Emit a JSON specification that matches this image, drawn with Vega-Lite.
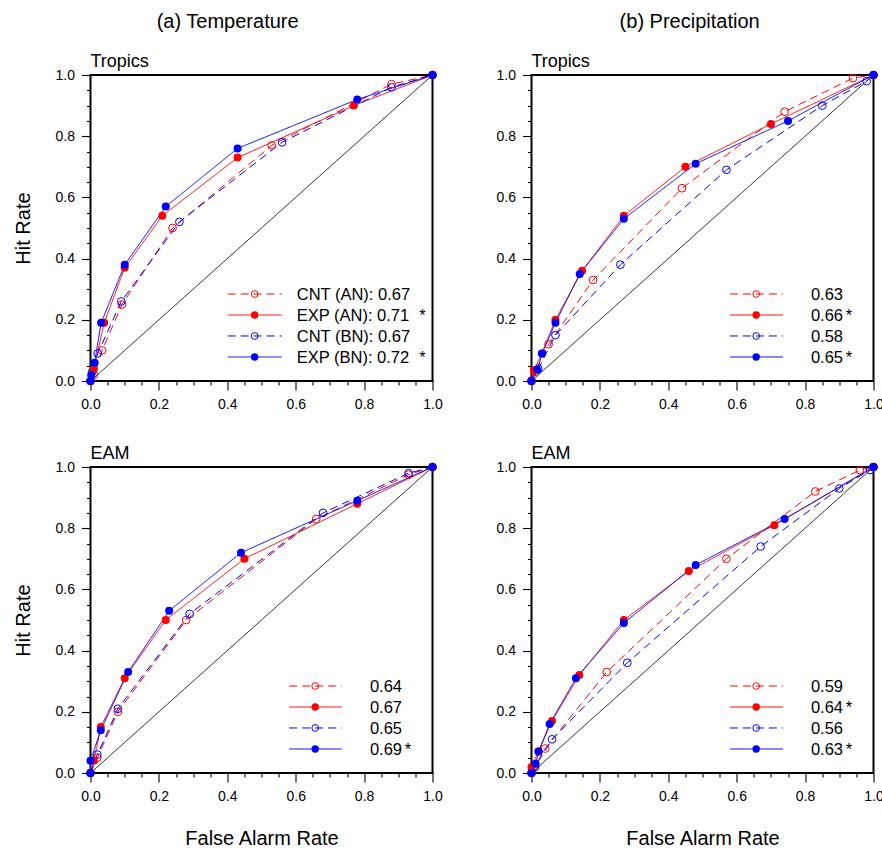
{
"$schema":"https://vega.github.io/schema/vega-lite/v6.json",
"padding":{"left":11.5,"top":12,"right":0,"bottom":0},
"datasets":{
"tt":[
{"series":"CNT (AN)","far":0,"hr":0},{"series":"CNT (AN)","far":0.01,"hr":0.02},{"series":"CNT (AN)","far":0.034,"hr":0.10},{"series":"CNT (AN)","far":0.092,"hr":0.25},{"series":"CNT (AN)","far":0.24,"hr":0.50},{"series":"CNT (AN)","far":0.53,"hr":0.77},{"series":"CNT (AN)","far":0.88,"hr":0.97},{"series":"CNT (AN)","far":1,"hr":1},
{"series":"EXP (AN)","far":0,"hr":0},{"series":"EXP (AN)","far":0.01,"hr":0.04},{"series":"EXP (AN)","far":0.04,"hr":0.19},{"series":"EXP (AN)","far":0.10,"hr":0.37},{"series":"EXP (AN)","far":0.21,"hr":0.54},{"series":"EXP (AN)","far":0.43,"hr":0.73},{"series":"EXP (AN)","far":0.77,"hr":0.90},{"series":"EXP (AN)","far":1,"hr":1},
{"series":"CNT (BN)","far":0,"hr":0},{"series":"CNT (BN)","far":0.005,"hr":0.03},{"series":"CNT (BN)","far":0.021,"hr":0.09},{"series":"CNT (BN)","far":0.09,"hr":0.26},{"series":"CNT (BN)","far":0.26,"hr":0.52},{"series":"CNT (BN)","far":0.56,"hr":0.78},{"series":"CNT (BN)","far":0.88,"hr":0.96},{"series":"CNT (BN)","far":1,"hr":1},
{"series":"EXP (BN)","far":0,"hr":0},{"series":"EXP (BN)","far":0.002,"hr":0.02},{"series":"EXP (BN)","far":0.012,"hr":0.06},{"series":"EXP (BN)","far":0.031,"hr":0.19},{"series":"EXP (BN)","far":0.10,"hr":0.38},{"series":"EXP (BN)","far":0.22,"hr":0.57},{"series":"EXP (BN)","far":0.43,"hr":0.76},{"series":"EXP (BN)","far":0.78,"hr":0.92},{"series":"EXP (BN)","far":1,"hr":1}
],
"pt":[
{"series":"CNT (AN)","far":0,"hr":0},{"series":"CNT (AN)","far":0.01,"hr":0.03},{"series":"CNT (AN)","far":0.05,"hr":0.12},{"series":"CNT (AN)","far":0.18,"hr":0.33},{"series":"CNT (AN)","far":0.44,"hr":0.63},{"series":"CNT (AN)","far":0.74,"hr":0.88},{"series":"CNT (AN)","far":0.94,"hr":0.99},{"series":"CNT (AN)","far":1,"hr":1},
{"series":"EXP (AN)","far":0,"hr":0},{"series":"EXP (AN)","far":0.007,"hr":0.035},{"series":"EXP (AN)","far":0.03,"hr":0.09},{"series":"EXP (AN)","far":0.07,"hr":0.20},{"series":"EXP (AN)","far":0.148,"hr":0.36},{"series":"EXP (AN)","far":0.27,"hr":0.54},{"series":"EXP (AN)","far":0.45,"hr":0.70},{"series":"EXP (AN)","far":0.70,"hr":0.84},{"series":"EXP (AN)","far":1,"hr":1},
{"series":"CNT (BN)","far":0,"hr":0},{"series":"CNT (BN)","far":0.02,"hr":0.04},{"series":"CNT (BN)","far":0.07,"hr":0.15},{"series":"CNT (BN)","far":0.26,"hr":0.38},{"series":"CNT (BN)","far":0.57,"hr":0.69},{"series":"CNT (BN)","far":0.85,"hr":0.90},{"series":"CNT (BN)","far":0.98,"hr":0.98},{"series":"CNT (BN)","far":1,"hr":1},
{"series":"EXP (BN)","far":0,"hr":0},{"series":"EXP (BN)","far":0.017,"hr":0.037},{"series":"EXP (BN)","far":0.031,"hr":0.09},{"series":"EXP (BN)","far":0.07,"hr":0.19},{"series":"EXP (BN)","far":0.141,"hr":0.35},{"series":"EXP (BN)","far":0.27,"hr":0.53},{"series":"EXP (BN)","far":0.48,"hr":0.71},{"series":"EXP (BN)","far":0.75,"hr":0.85},{"series":"EXP (BN)","far":1,"hr":1}
],
"te":[
{"series":"CNT (AN)","far":0,"hr":0},{"series":"CNT (AN)","far":0.02,"hr":0.05},{"series":"CNT (AN)","far":0.08,"hr":0.20},{"series":"CNT (AN)","far":0.28,"hr":0.50},{"series":"CNT (AN)","far":0.66,"hr":0.83},{"series":"CNT (AN)","far":0.93,"hr":0.975},{"series":"CNT (AN)","far":1,"hr":1},
{"series":"EXP (AN)","far":0,"hr":0},{"series":"EXP (AN)","far":0.01,"hr":0.04},{"series":"EXP (AN)","far":0.03,"hr":0.15},{"series":"EXP (AN)","far":0.10,"hr":0.31},{"series":"EXP (AN)","far":0.22,"hr":0.50},{"series":"EXP (AN)","far":0.45,"hr":0.70},{"series":"EXP (AN)","far":0.78,"hr":0.88},{"series":"EXP (AN)","far":1,"hr":1},
{"series":"CNT (BN)","far":0,"hr":0},{"series":"CNT (BN)","far":0.02,"hr":0.06},{"series":"CNT (BN)","far":0.08,"hr":0.21},{"series":"CNT (BN)","far":0.29,"hr":0.52},{"series":"CNT (BN)","far":0.68,"hr":0.85},{"series":"CNT (BN)","far":0.93,"hr":0.98},{"series":"CNT (BN)","far":1,"hr":1},
{"series":"EXP (BN)","far":0,"hr":0},{"series":"EXP (BN)","far":0,"hr":0.04},{"series":"EXP (BN)","far":0.03,"hr":0.14},{"series":"EXP (BN)","far":0.11,"hr":0.33},{"series":"EXP (BN)","far":0.23,"hr":0.53},{"series":"EXP (BN)","far":0.44,"hr":0.72},{"series":"EXP (BN)","far":0.78,"hr":0.89},{"series":"EXP (BN)","far":1,"hr":1}
],
"pe":[
{"series":"CNT (AN)","far":0,"hr":0},{"series":"CNT (AN)","far":0.01,"hr":0.02},{"series":"CNT (AN)","far":0.04,"hr":0.08},{"series":"CNT (AN)","far":0.22,"hr":0.33},{"series":"CNT (AN)","far":0.57,"hr":0.70},{"series":"CNT (AN)","far":0.83,"hr":0.92},{"series":"CNT (AN)","far":0.96,"hr":0.99},{"series":"CNT (AN)","far":1,"hr":1},
{"series":"EXP (AN)","far":0,"hr":0},{"series":"EXP (AN)","far":0,"hr":0.02},{"series":"EXP (AN)","far":0.02,"hr":0.07},{"series":"EXP (AN)","far":0.06,"hr":0.17},{"series":"EXP (AN)","far":0.14,"hr":0.32},{"series":"EXP (AN)","far":0.27,"hr":0.50},{"series":"EXP (AN)","far":0.46,"hr":0.66},{"series":"EXP (AN)","far":0.71,"hr":0.81},{"series":"EXP (AN)","far":1,"hr":1},
{"series":"CNT (BN)","far":0,"hr":0},{"series":"CNT (BN)","far":0.01,"hr":0.02},{"series":"CNT (BN)","far":0.06,"hr":0.11},{"series":"CNT (BN)","far":0.28,"hr":0.36},{"series":"CNT (BN)","far":0.67,"hr":0.74},{"series":"CNT (BN)","far":0.90,"hr":0.93},{"series":"CNT (BN)","far":0.99,"hr":0.99},{"series":"CNT (BN)","far":1,"hr":1},
{"series":"EXP (BN)","far":0,"hr":0},{"series":"EXP (BN)","far":0.012,"hr":0.03},{"series":"EXP (BN)","far":0.021,"hr":0.07},{"series":"EXP (BN)","far":0.053,"hr":0.16},{"series":"EXP (BN)","far":0.13,"hr":0.31},{"series":"EXP (BN)","far":0.27,"hr":0.49},{"series":"EXP (BN)","far":0.48,"hr":0.68},{"series":"EXP (BN)","far":0.74,"hr":0.83},{"series":"EXP (BN)","far":1,"hr":1}
],
"tt_leg":[{"series":"CNT (AN)","label":"CNT (AN): 0.67","star":""},{"series":"EXP (AN)","label":"EXP (AN): 0.71","star":"*"},{"series":"CNT (BN)","label":"CNT (BN): 0.67","star":""},{"series":"EXP (BN)","label":"EXP (BN): 0.72","star":"*"}],
"pt_leg":[{"series":"CNT (AN)","label":"0.63","star":""},{"series":"EXP (AN)","label":"0.66","star":"*"},{"series":"CNT (BN)","label":"0.58","star":""},{"series":"EXP (BN)","label":"0.65","star":"*"}],
"te_leg":[{"series":"CNT (AN)","label":"0.64","star":""},{"series":"EXP (AN)","label":"0.67","star":""},{"series":"CNT (BN)","label":"0.65","star":""},{"series":"EXP (BN)","label":"0.69","star":"*"}],
"pe_leg":[{"series":"CNT (AN)","label":"0.59","star":""},{"series":"EXP (AN)","label":"0.64","star":"*"},{"series":"CNT (BN)","label":"0.56","star":""},{"series":"EXP (BN)","label":"0.63","star":"*"}]
},
"hconcat":[
{"title":{"text":"(a) Temperature","fontSize":20,"anchor":"middle","frame":"bounds","offset":20},
 "spacing":32,
 "vconcat":[
 {"width":342,"height":306,"data":{"name":"tt"},"title":{"text":"Tropics"},
  "resolve":{"scale":{"y":"independent"},"axis":{"x":"independent","y":"independent"}},
  "layer":[
   {"data":{"values":[{"far":0,"hr":0},{"far":1,"hr":1}]},"mark":{"type":"line","color":"black","strokeWidth":0.8},
    "encoding":{"x":{"field":"far","type":"quantitative","scale":{"domain":[0,1],"nice":false,"zero":false},"axis":{"orient":"bottom","title":null,"labels":false,"tickSize":4,"values":[0.05,0.1,0.15,0.25,0.3,0.35,0.45,0.5,0.55,0.65,0.7,0.75,0.85,0.9,0.95]}},"y":{"field":"hr","type":"quantitative","scale":{"domain":[0,1],"nice":false,"zero":false},"axis":{"orient":"left","title":null,"labels":false,"tickSize":4,"values":[0.05,0.1,0.15,0.25,0.3,0.35,0.45,0.5,0.55,0.65,0.7,0.75,0.85,0.9,0.95]}}}},
   {"encoding":{
     "x":{"field":"far","type":"quantitative","scale":{"domain":[0,1],"nice":false,"zero":false},"axis":{"title":null,"orient":"bottom","values":[0,0.2,0.4,0.6,0.8,1],"tickSize":9,"labelExpr":"format(datum.value,'.1f')"}},
     "y":{"field":"hr","type":"quantitative","scale":{"domain":[0,1],"nice":false,"zero":false},"axis":{"title":"Hit Rate","orient":"left","values":[0,0.2,0.4,0.6,0.8,1],"tickSize":9,"labelExpr":"format(datum.value,'.1f')"}}},
    "layer":[
     {"mark":{"type":"line","strokeWidth":1},"encoding":{"order":{"field":"hr"},"color":{"field":"series","type":"nominal","scale":{"domain":["CNT (AN)","EXP (AN)","CNT (BN)","EXP (BN)"],"range":["#ff0000","#ff0000","#0000ff","#0000ff"]}},"strokeDash":{"field":"series","type":"nominal","scale":{"domain":["CNT (AN)","EXP (AN)","CNT (BN)","EXP (BN)"],"range":[[8,5],[1,0],[8,5],[1,0]]}}}},
     {"transform":[{"filter":"indexof(datum.series,'CNT')==0"}],"mark":{"type":"point","filled":false,"size":60,"strokeWidth":1,"opacity":1},"encoding":{"color":{"field":"series","type":"nominal"}}},
     {"transform":[{"filter":"indexof(datum.series,'EXP')==0"}],"mark":{"type":"point","filled":true,"size":64,"opacity":1},"encoding":{"color":{"field":"series","type":"nominal"}}}
    ]},
   {"data":{"name":"tt_leg"},
    "encoding":{"y":{"field":"series","type":"nominal","scale":{"type":"point","domain":[" a"," b"," c"," d"," e"," f"," g"," h"," i"," j","CNT (AN)","EXP (AN)","CNT (BN)","EXP (BN)"," k"],"padding":0.29,"align":0.75},"axis":null}},
    "layer":[
     {"mark":{"type":"rule","strokeWidth":1},"encoding":{"x":{"datum":0.401,"type":"quantitative","axis":null},"x2":{"datum":0.559},"color":{"field":"series","type":"nominal"},"strokeDash":{"field":"series","type":"nominal"}}},
     {"transform":[{"filter":"indexof(datum.series,'CNT')==0"}],"mark":{"type":"point","filled":false,"size":45,"strokeWidth":1,"opacity":1},"encoding":{"x":{"datum":0.48,"type":"quantitative","axis":null},"color":{"field":"series","type":"nominal"}}},
     {"transform":[{"filter":"indexof(datum.series,'EXP')==0"}],"mark":{"type":"point","filled":true,"size":55,"opacity":1},"encoding":{"x":{"datum":0.48,"type":"quantitative","axis":null},"color":{"field":"series","type":"nominal"}}},
     {"mark":{"type":"text","align":"left","baseline":"middle","fontSize":16.5,"font":"Liberation Sans","color":"black","dy":1},"encoding":{"x":{"datum":0.603,"type":"quantitative","axis":null},"text":{"field":"label"}}},
     {"transform":[{"filter":"datum.star != ''"}],"mark":{"type":"text","align":"left","baseline":"middle","fontSize":16.5,"font":"Liberation Sans","color":"black","dy":1},"encoding":{"x":{"datum":0.961,"type":"quantitative","axis":null},"text":{"field":"star"}}}
    ]}
  ]},
 {"width":342,"height":306,"data":{"name":"te"},"title":{"text":"EAM"},
  "resolve":{"scale":{"y":"independent"},"axis":{"x":"independent","y":"independent"}},
  "layer":[
   {"data":{"values":[{"far":0,"hr":0},{"far":1,"hr":1}]},"mark":{"type":"line","color":"black","strokeWidth":0.8},
    "encoding":{"x":{"field":"far","type":"quantitative","scale":{"domain":[0,1],"nice":false,"zero":false},"axis":{"orient":"bottom","title":null,"labels":false,"tickSize":4,"values":[0.05,0.1,0.15,0.25,0.3,0.35,0.45,0.5,0.55,0.65,0.7,0.75,0.85,0.9,0.95]}},"y":{"field":"hr","type":"quantitative","scale":{"domain":[0,1],"nice":false,"zero":false},"axis":{"orient":"left","title":null,"labels":false,"tickSize":4,"values":[0.05,0.1,0.15,0.25,0.3,0.35,0.45,0.5,0.55,0.65,0.7,0.75,0.85,0.9,0.95]}}}},
   {"encoding":{
     "x":{"field":"far","type":"quantitative","scale":{"domain":[0,1],"nice":false,"zero":false},"axis":{"title":"False Alarm Rate","titlePadding":25,"orient":"bottom","values":[0,0.2,0.4,0.6,0.8,1],"tickSize":9,"labelExpr":"format(datum.value,'.1f')"}},
     "y":{"field":"hr","type":"quantitative","scale":{"domain":[0,1],"nice":false,"zero":false},"axis":{"title":"Hit Rate","orient":"left","values":[0,0.2,0.4,0.6,0.8,1],"tickSize":9,"labelExpr":"format(datum.value,'.1f')"}}},
    "layer":[
     {"mark":{"type":"line","strokeWidth":1},"encoding":{"order":{"field":"hr"},"color":{"field":"series","type":"nominal","scale":{"domain":["CNT (AN)","EXP (AN)","CNT (BN)","EXP (BN)"],"range":["#ff0000","#ff0000","#0000ff","#0000ff"]}},"strokeDash":{"field":"series","type":"nominal","scale":{"domain":["CNT (AN)","EXP (AN)","CNT (BN)","EXP (BN)"],"range":[[8,5],[1,0],[8,5],[1,0]]}}}},
     {"transform":[{"filter":"indexof(datum.series,'CNT')==0"}],"mark":{"type":"point","filled":false,"size":60,"strokeWidth":1,"opacity":1},"encoding":{"color":{"field":"series","type":"nominal"}}},
     {"transform":[{"filter":"indexof(datum.series,'EXP')==0"}],"mark":{"type":"point","filled":true,"size":64,"opacity":1},"encoding":{"color":{"field":"series","type":"nominal"}}}
    ]},
   {"data":{"name":"te_leg"},
    "encoding":{"y":{"field":"series","type":"nominal","scale":{"type":"point","domain":[" a"," b"," c"," d"," e"," f"," g"," h"," i"," j","CNT (AN)","EXP (AN)","CNT (BN)","EXP (BN)"," k"],"padding":0.29,"align":0.75},"axis":null}},
    "layer":[
     {"mark":{"type":"rule","strokeWidth":1},"encoding":{"x":{"datum":0.581,"type":"quantitative","axis":null},"x2":{"datum":0.735},"color":{"field":"series","type":"nominal"},"strokeDash":{"field":"series","type":"nominal"}}},
     {"transform":[{"filter":"indexof(datum.series,'CNT')==0"}],"mark":{"type":"point","filled":false,"size":45,"strokeWidth":1,"opacity":1},"encoding":{"x":{"datum":0.657,"type":"quantitative","axis":null},"color":{"field":"series","type":"nominal"}}},
     {"transform":[{"filter":"indexof(datum.series,'EXP')==0"}],"mark":{"type":"point","filled":true,"size":55,"opacity":1},"encoding":{"x":{"datum":0.657,"type":"quantitative","axis":null},"color":{"field":"series","type":"nominal"}}},
     {"mark":{"type":"text","align":"left","baseline":"middle","fontSize":16.5,"font":"Liberation Sans","color":"black","dy":1},"encoding":{"x":{"datum":0.817,"type":"quantitative","axis":null},"text":{"field":"label"}}},
     {"transform":[{"filter":"datum.star != ''"}],"mark":{"type":"text","align":"left","baseline":"middle","fontSize":16.5,"font":"Liberation Sans","color":"black","dy":1},"encoding":{"x":{"datum":0.919,"type":"quantitative","axis":null},"text":{"field":"star"}}}
    ]}
  ]}
 ]},
{"title":{"text":"(b) Precipitation","fontSize":20,"anchor":"middle","frame":"bounds","offset":20},
 "spacing":32,
 "vconcat":[
 {"width":342,"height":306,"data":{"name":"pt"},"title":{"text":"Tropics"},
  "resolve":{"scale":{"y":"independent"},"axis":{"x":"independent","y":"independent"}},
  "layer":[
   {"data":{"values":[{"far":0,"hr":0},{"far":1,"hr":1}]},"mark":{"type":"line","color":"black","strokeWidth":0.8},
    "encoding":{"x":{"field":"far","type":"quantitative","scale":{"domain":[0,1],"nice":false,"zero":false},"axis":{"orient":"bottom","title":null,"labels":false,"tickSize":4,"values":[0.05,0.1,0.15,0.25,0.3,0.35,0.45,0.5,0.55,0.65,0.7,0.75,0.85,0.9,0.95]}},"y":{"field":"hr","type":"quantitative","scale":{"domain":[0,1],"nice":false,"zero":false},"axis":{"orient":"left","title":null,"labels":false,"tickSize":4,"values":[0.05,0.1,0.15,0.25,0.3,0.35,0.45,0.5,0.55,0.65,0.7,0.75,0.85,0.9,0.95]}}}},
   {"encoding":{
     "x":{"field":"far","type":"quantitative","scale":{"domain":[0,1],"nice":false,"zero":false},"axis":{"title":null,"orient":"bottom","values":[0,0.2,0.4,0.6,0.8,1],"tickSize":9,"labelExpr":"format(datum.value,'.1f')"}},
     "y":{"field":"hr","type":"quantitative","scale":{"domain":[0,1],"nice":false,"zero":false},"axis":{"title":null,"orient":"left","values":[0,0.2,0.4,0.6,0.8,1],"tickSize":9,"labelExpr":"format(datum.value,'.1f')"}}},
    "layer":[
     {"mark":{"type":"line","strokeWidth":1},"encoding":{"order":{"field":"hr"},"color":{"field":"series","type":"nominal","scale":{"domain":["CNT (AN)","EXP (AN)","CNT (BN)","EXP (BN)"],"range":["#ff0000","#ff0000","#0000ff","#0000ff"]}},"strokeDash":{"field":"series","type":"nominal","scale":{"domain":["CNT (AN)","EXP (AN)","CNT (BN)","EXP (BN)"],"range":[[8,5],[1,0],[8,5],[1,0]]}}}},
     {"transform":[{"filter":"indexof(datum.series,'CNT')==0"}],"mark":{"type":"point","filled":false,"size":60,"strokeWidth":1,"opacity":1},"encoding":{"color":{"field":"series","type":"nominal"}}},
     {"transform":[{"filter":"indexof(datum.series,'EXP')==0"}],"mark":{"type":"point","filled":true,"size":64,"opacity":1},"encoding":{"color":{"field":"series","type":"nominal"}}}
    ]},
   {"data":{"name":"pt_leg"},
    "encoding":{"y":{"field":"series","type":"nominal","scale":{"type":"point","domain":[" a"," b"," c"," d"," e"," f"," g"," h"," i"," j","CNT (AN)","EXP (AN)","CNT (BN)","EXP (BN)"," k"],"padding":0.29,"align":0.75},"axis":null}},
    "layer":[
     {"mark":{"type":"rule","strokeWidth":1},"encoding":{"x":{"datum":0.58,"type":"quantitative","axis":null},"x2":{"datum":0.735},"color":{"field":"series","type":"nominal"},"strokeDash":{"field":"series","type":"nominal"}}},
     {"transform":[{"filter":"indexof(datum.series,'CNT')==0"}],"mark":{"type":"point","filled":false,"size":45,"strokeWidth":1,"opacity":1},"encoding":{"x":{"datum":0.657,"type":"quantitative","axis":null},"color":{"field":"series","type":"nominal"}}},
     {"transform":[{"filter":"indexof(datum.series,'EXP')==0"}],"mark":{"type":"point","filled":true,"size":55,"opacity":1},"encoding":{"x":{"datum":0.657,"type":"quantitative","axis":null},"color":{"field":"series","type":"nominal"}}},
     {"mark":{"type":"text","align":"left","baseline":"middle","fontSize":16.5,"font":"Liberation Sans","color":"black","dy":1},"encoding":{"x":{"datum":0.817,"type":"quantitative","axis":null},"text":{"field":"label"}}},
     {"transform":[{"filter":"datum.star != ''"}],"mark":{"type":"text","align":"left","baseline":"middle","fontSize":16.5,"font":"Liberation Sans","color":"black","dy":1},"encoding":{"x":{"datum":0.919,"type":"quantitative","axis":null},"text":{"field":"star"}}}
    ]}
  ]},
 {"width":342,"height":306,"data":{"name":"pe"},"title":{"text":"EAM"},
  "resolve":{"scale":{"y":"independent"},"axis":{"x":"independent","y":"independent"}},
  "layer":[
   {"data":{"values":[{"far":0,"hr":0},{"far":1,"hr":1}]},"mark":{"type":"line","color":"black","strokeWidth":0.8},
    "encoding":{"x":{"field":"far","type":"quantitative","scale":{"domain":[0,1],"nice":false,"zero":false},"axis":{"orient":"bottom","title":null,"labels":false,"tickSize":4,"values":[0.05,0.1,0.15,0.25,0.3,0.35,0.45,0.5,0.55,0.65,0.7,0.75,0.85,0.9,0.95]}},"y":{"field":"hr","type":"quantitative","scale":{"domain":[0,1],"nice":false,"zero":false},"axis":{"orient":"left","title":null,"labels":false,"tickSize":4,"values":[0.05,0.1,0.15,0.25,0.3,0.35,0.45,0.5,0.55,0.65,0.7,0.75,0.85,0.9,0.95]}}}},
   {"encoding":{
     "x":{"field":"far","type":"quantitative","scale":{"domain":[0,1],"nice":false,"zero":false},"axis":{"title":"False Alarm Rate","titlePadding":25,"orient":"bottom","values":[0,0.2,0.4,0.6,0.8,1],"tickSize":9,"labelExpr":"format(datum.value,'.1f')"}},
     "y":{"field":"hr","type":"quantitative","scale":{"domain":[0,1],"nice":false,"zero":false},"axis":{"title":null,"orient":"left","values":[0,0.2,0.4,0.6,0.8,1],"tickSize":9,"labelExpr":"format(datum.value,'.1f')"}}},
    "layer":[
     {"mark":{"type":"line","strokeWidth":1},"encoding":{"order":{"field":"hr"},"color":{"field":"series","type":"nominal","scale":{"domain":["CNT (AN)","EXP (AN)","CNT (BN)","EXP (BN)"],"range":["#ff0000","#ff0000","#0000ff","#0000ff"]}},"strokeDash":{"field":"series","type":"nominal","scale":{"domain":["CNT (AN)","EXP (AN)","CNT (BN)","EXP (BN)"],"range":[[8,5],[1,0],[8,5],[1,0]]}}}},
     {"transform":[{"filter":"indexof(datum.series,'CNT')==0"}],"mark":{"type":"point","filled":false,"size":60,"strokeWidth":1,"opacity":1},"encoding":{"color":{"field":"series","type":"nominal"}}},
     {"transform":[{"filter":"indexof(datum.series,'EXP')==0"}],"mark":{"type":"point","filled":true,"size":64,"opacity":1},"encoding":{"color":{"field":"series","type":"nominal"}}}
    ]},
   {"data":{"name":"pe_leg"},
    "encoding":{"y":{"field":"series","type":"nominal","scale":{"type":"point","domain":[" a"," b"," c"," d"," e"," f"," g"," h"," i"," j","CNT (AN)","EXP (AN)","CNT (BN)","EXP (BN)"," k"],"padding":0.29,"align":0.75},"axis":null}},
    "layer":[
     {"mark":{"type":"rule","strokeWidth":1},"encoding":{"x":{"datum":0.58,"type":"quantitative","axis":null},"x2":{"datum":0.735},"color":{"field":"series","type":"nominal"},"strokeDash":{"field":"series","type":"nominal"}}},
     {"transform":[{"filter":"indexof(datum.series,'CNT')==0"}],"mark":{"type":"point","filled":false,"size":45,"strokeWidth":1,"opacity":1},"encoding":{"x":{"datum":0.657,"type":"quantitative","axis":null},"color":{"field":"series","type":"nominal"}}},
     {"transform":[{"filter":"indexof(datum.series,'EXP')==0"}],"mark":{"type":"point","filled":true,"size":55,"opacity":1},"encoding":{"x":{"datum":0.657,"type":"quantitative","axis":null},"color":{"field":"series","type":"nominal"}}},
     {"mark":{"type":"text","align":"left","baseline":"middle","fontSize":16.5,"font":"Liberation Sans","color":"black","dy":1},"encoding":{"x":{"datum":0.817,"type":"quantitative","axis":null},"text":{"field":"label"}}},
     {"transform":[{"filter":"datum.star != ''"}],"mark":{"type":"text","align":"left","baseline":"middle","fontSize":16.5,"font":"Liberation Sans","color":"black","dy":1},"encoding":{"x":{"datum":0.919,"type":"quantitative","axis":null},"text":{"field":"star"}}}
    ]}
  ]}
 ]}
],
"spacing":51,
"config":{
 "font":"Liberation Sans",
 "view":{"stroke":"black","strokeWidth":2},
 "legend":{"disable":true},
 "axis":{"grid":false,"domain":false,"tickColor":"black","tickWidth":1.1,"labelFontSize":14,"labelColor":"black","labelPadding":7,"labelFlush":false,"labelOverlap":false,"labelBound":false,"titleFontSize":20,"titleFontWeight":"normal","titleColor":"black","titlePadding":22},
 "title":{"fontSize":18,"fontWeight":"normal","anchor":"start","frame":"group","color":"black","offset":-3}
}
}
